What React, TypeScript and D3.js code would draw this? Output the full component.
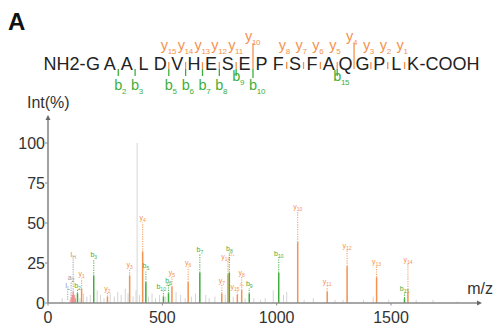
import React from 'react';
import * as d3 from 'd3';

// peptide and its observed fragments
const residues = ['G', 'A', 'A', 'L', 'D', 'V', 'H', 'E', 'S', 'E', 'P', 'F', 'S', 'F', 'A', 'Q', 'G', 'P', 'L', 'K'];
const bFragments = [2, 3, 5, 6, 7, 8, 9, 10, 15];
const yFragments = [15, 14, 13, 12, 11, 10, 8, 7, 6, 5, 4, 3, 2, 1];
const yLong = [10, 4];
const bRaised = [9, 15];

// annotated peaks: m/z, intensity (%), label height (%)
const annotated = [
  { ion: 'o', name: 'I', sub: 'L', z: '', mz: 86, int: 2, lab: 9 },
  { ion: 'o', name: 'a', sub: '2', z: '', mz: 101, int: 3, lab: 14 },
  { ion: 'o', name: 'I', sub: 'H', z: '', mz: 110, int: 7, lab: 28 },
  { ion: 'b', name: 'b', sub: '2', z: '', mz: 129, int: 6, lab: 9 },
  { ion: 'y', name: 'y', sub: '1', z: '', mz: 147, int: 9, lab: 16 },
  { ion: 'b', name: 'b', sub: '3', z: '', mz: 200, int: 17, lab: 28 },
  { ion: 'y', name: 'y', sub: '2', z: '', mz: 260, int: 4, lab: 7 },
  { ion: 'y', name: 'y', sub: '3', z: '', mz: 357, int: 17, lab: 22 },
  { ion: 'y', name: 'y', sub: '4', z: '', mz: 414, int: 32, lab: 51 },
  { ion: 'b', name: 'b', sub: '5', z: '', mz: 428, int: 13, lab: 21 },
  { ion: 'b', name: 'b', sub: '10', z: '2+', mz: 505, int: 4, lab: 8 },
  { ion: 'b', name: 'b', sub: '6', z: '', mz: 527, int: 6, lab: 12 },
  { ion: 'y', name: 'y', sub: '5', z: '', mz: 542, int: 10, lab: 17 },
  { ion: 'y', name: 'y', sub: '6', z: '', mz: 613, int: 13, lab: 23 },
  { ion: 'b', name: 'b', sub: '7', z: '', mz: 664, int: 19, lab: 31 },
  { ion: 'y', name: 'y', sub: '7', z: '', mz: 760, int: 6, lab: 12 },
  { ion: 'y', name: 'y', sub: '14', z: '2+', mz: 787, int: 18, lab: 27 },
  { ion: 'b', name: 'b', sub: '8', z: '', mz: 793, int: 19, lab: 32 },
  { ion: 'y', name: 'y', sub: '15', z: '2+', mz: 828, int: 5, lab: 8 },
  { ion: 'y', name: 'y', sub: '8', z: '', mz: 847, int: 8, lab: 17 },
  { ion: 'b', name: 'b', sub: '9', z: '', mz: 880, int: 6, lab: 10 },
  { ion: 'b', name: 'b', sub: '10', z: '', mz: 1009, int: 19, lab: 29 },
  { ion: 'y', name: 'y', sub: '10', z: '', mz: 1092, int: 38, lab: 58 },
  { ion: 'y', name: 'y', sub: '11', z: '', mz: 1221, int: 7, lab: 11 },
  { ion: 'y', name: 'y', sub: '12', z: '', mz: 1308, int: 23, lab: 34 },
  { ion: 'y', name: 'y', sub: '13', z: '', mz: 1437, int: 16, lab: 24 },
  { ion: 'b', name: 'b', sub: '15', z: '', mz: 1559, int: 3, lab: 7 },
  { ion: 'y', name: 'y', sub: '14', z: '', mz: 1574, int: 7, lab: 25 },
];

// unassigned peaks [m/z, intensity]
const noise = [
  [62, 3], [96, 2], [118, 5], [140, 3], [155, 6], [170, 4], [185, 5], [215, 8], [230, 5], [245, 3],
  [272, 6], [290, 4], [305, 7], [320, 5], [338, 9], [350, 6], [372, 4], [385, 8], [400, 5], [440, 4],
  [455, 6], [470, 3], [488, 5], [515, 4], [560, 7], [580, 5], [600, 3], [628, 4], [645, 6], [690, 5],
  [705, 3], [730, 4], [775, 5], [810, 4], [862, 3], [900, 3], [930, 2], [950, 3], [985, 8], [1030, 5],
  [1044, 7], [1120, 2], [1160, 3], [1255, 2], [1290, 2], [1380, 2], [1422, 4], [1490, 2], [1610, 2],
  [1684, 2], [1790, 1],
];
const precursor = [[390, 100]];
const immonium = [[101, 3], [106, 5], [110, 7], [114, 5], [119, 3]];

const xTicks = [0, 500, 1000, 1500];
const yTicks = [0, 25, 50, 75, 100];

const ORANGE = '#f5924e';
const GREEN = '#3fae3c';
const colorOf = (ion: string) => (ion === 'y' ? ORANGE : ion === 'b' ? GREEN : '#999');

export default function App() {
  const W = 494;
  const H = 333;
  const font = 'Arial, "Liberation Sans", Helvetica, sans-serif';

  const x = d3.scaleLinear().domain([0, 1500]).range([48, 391]);
  const y = d3.scaleLinear().domain([0, 100]).range([303, 143]);
  const xEnd = 482;
  const yTop = 115;

  const seq = d3.scalePoint<number>().domain(d3.range(residues.length)).range([93, 413]);
  const step = seq.step();
  const seqBase = 70;
  // cut position after residue n (counted from the N-terminus)
  const cutX = (n: number) => (seq(n - 1) as number) + step / 2;

  return (
    <svg width={W} height={H} style={{ position: 'absolute', left: 0, top: 0, fontFamily: font }}>
      <rect width={W} height={H} fill="#fff" />
      <text x={8} y={30} fontSize={24} fontWeight={900} fill="#111">A</text>

      {/* sequence */}
      <g fill="#222" fontSize={18}>
        <text x={(seq(0) as number) - 7.5} y={seqBase} textAnchor="end">NH2-</text>
        {residues.map((r, i) => (
          <text key={i} x={seq(i) as number} y={seqBase} textAnchor="middle">{r}</text>
        ))}
        <text x={(seq(residues.length - 1) as number) + 6.5} y={seqBase}>-COOH</text>
      </g>
      {yFragments.map((n) => {
        const cx = cutX(residues.length - n);
        const long = yLong.includes(n);
        const base = long ? 41 : 50;
        return (
          <g key={'yf' + n} fill={ORANGE}>
            <line x1={cx} x2={cx} y1={long ? 43 : 62} y2={69} stroke={ORANGE} strokeWidth={1.3} />
            <text x={cx - 8} y={base} fontSize={14.5} letterSpacing={-0.3}>
              y<tspan fontSize={8} dy={4}>{n}</tspan>
            </text>
          </g>
        );
      })}
      {bFragments.map((n) => {
        const cx = cutX(n);
        const base = bRaised.includes(n) ? 81 : 90;
        return (
          <g key={'bf' + n} fill={GREEN}>
            <line x1={cx} x2={cx} y1={69} y2={n === 10 ? 78 : 76} stroke={GREEN} strokeWidth={1.3} />
            <text x={cx - 4} y={base} fontSize={14.5} letterSpacing={-0.3}>
              b<tspan fontSize={8} dy={4}>{n}</tspan>
            </text>
          </g>
        );
      })}

      {/* spectrum */}
      <text x={27} y={108} fontSize={16} fill="#333">Int(%)</text>
      {precursor.map(([m, v], i) => (
        <line key={'p' + i} x1={x(m)} x2={x(m)} y1={y(0)} y2={y(v)} stroke="#e6e6e6" strokeWidth={1.6} />
      ))}
      {noise.map(([m, v], i) => (
        <line key={'n' + i} x1={x(m)} x2={x(m)} y1={y(0)} y2={y(v)} stroke="#d4d4d4" strokeWidth={1} />
      ))}
      {immonium.map(([m, v], i) => (
        <line key={'r' + i} x1={x(m)} x2={x(m)} y1={y(0)} y2={y(v)} stroke="#f28a8a" strokeWidth={1.4} />
      ))}
      {annotated.map((d, i) => {
        const c = colorOf(d.ion);
        const px = x(d.mz);
        return (
          <g key={'a' + i}>
            {d.ion !== 'o' && (
              <line x1={px} x2={px} y1={y(0)} y2={y(d.int)} stroke={c} strokeWidth={1.5} />
            )}
            <line x1={px} x2={px} y1={y(d.int)} y2={y(d.lab) + 1} stroke={c} strokeWidth={1.1} strokeDasharray="1.2,1.2" opacity={0.85} />
            <text x={px} y={y(d.lab) - 1} fontSize={7} fill={c} textAnchor="middle">
              {d.name}
              <tspan fontSize={5} dy={2}>{d.sub}</tspan>
              {d.z && <tspan fontSize={4} dy={-5}>{d.z}</tspan>}
            </text>
          </g>
        );
      })}

      {/* axes */}
      <g stroke="#8a8a8a" strokeWidth={1.6}>
        <line x1={x(0)} x2={xEnd - 3} y1={y(0)} y2={y(0)} />
        <line x1={x(0)} x2={x(0)} y1={y(0)} y2={yTop + 3} />
      </g>
      <path d={`M${xEnd},${y(0)} l-5,-2.5 v5 z`} fill="#666" />
      <path d={`M${x(0)},${yTop} l-2.5,5 h5 z`} fill="#666" />
      {yTicks.map((t) => (
        <g key={'yt' + t}>
          <line x1={x(0) - 3} x2={x(0)} y1={y(t)} y2={y(t)} stroke="#8a8a8a" strokeWidth={1} />
          <text x={45} y={y(t) + 6} fontSize={16} fill="#333" textAnchor="end">{t}</text>
        </g>
      ))}
      {xTicks.map((t) => (
        <g key={'xt' + t}>
          <line x1={x(t)} x2={x(t)} y1={y(0)} y2={y(0) + 2.5} stroke="#8a8a8a" strokeWidth={1} />
          <text x={x(t)} y={323} fontSize={16} fill="#333" textAnchor="middle">{t}</text>
        </g>
      ))}
      <text x={493} y={294} fontSize={16} fill="#333" textAnchor="end">m/z</text>
    </svg>
  );
}
